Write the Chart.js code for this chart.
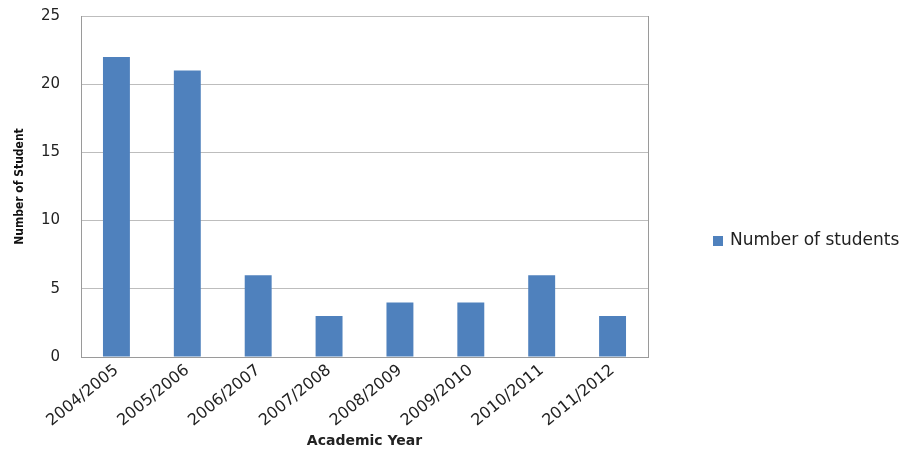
<!DOCTYPE html>
<html lang="en">
<head>
  <meta charset="UTF-8">
  <title>Number of students</title>
  <script src="https://cdn.jsdelivr.net/npm/chart.js"></script>
  <style>
    html, body { margin: 0; padding: 0; background: #fff; }
    #wrap { width: 901px; height: 452px; }
  </style>
</head>
<body>
  <div id="wrap"><canvas id="studentChart" width="901" height="452"></canvas></div>

  <script>
    const years = ['2004/2005', '2005/2006', '2006/2007', '2007/2008', '2008/2009', '2009/2010', '2010/2011', '2011/2012'];
    const students = [22, 21, 6, 3, 4, 4, 6, 3];
    const seriesName = 'Number of students';
    const yTitle = 'Number of Student';
    const xTitle = 'Academic Year';

    // legend drawn at the right of the plot, like the original
    const sideLegend = {
      id: 'sideLegend',
      afterDraw(chart) {
        const ctx = chart.ctx;
        const ds = chart.data.datasets[0];
        const x = chart.chartArea.right + 65;
        const y = 241;
        ctx.save();
        ctx.fillStyle = ds.backgroundColor;
        ctx.fillRect(x, y - 5, 10, 10);
        ctx.fillStyle = '#222';
        ctx.font = '17px "DejaVu Sans"';
        ctx.textBaseline = 'middle';
        ctx.fillText(ds.label, x + 17, y);
        ctx.restore();
      }
    };

    new Chart(document.getElementById('studentChart').getContext('2d'), {
      type: 'bar',
      data: {
        labels: years,
        datasets: [{
          label: seriesName,
          data: students,
          backgroundColor: '#4F81BD',
          barPercentage: 0.38,
          categoryPercentage: 1
        }]
      },
      options: {
        responsive: false,
        animation: false,
        layout: { padding: { top: 16, right: 253, left: 0, bottom: 0 } },
        plugins: {
          legend: { display: false },
          tooltip: { enabled: false }
        },
        scales: {
          x: {
            grid: { display: false, drawTicks: false },
            border: { color: '#9a9a9a' },
            ticks: {
              color: '#222',
              font: { family: 'DejaVu Sans', size: 16 },
              minRotation: 39,
              maxRotation: 39,
              padding: 4
            },
            title: {
              display: true,
              text: xTitle,
              color: '#222',
              font: { family: 'DejaVu Sans', size: 14, weight: 'bold' },
              padding: { top: 0, bottom: 2 }
            },
            afterFit(scale) { scale.height = 95; }
          },
          y: {
            min: 0,
            max: 25,
            grid: { color: '#bdbdbd', drawTicks: true, tickLength: 17, tickColor: 'rgba(0,0,0,0)' },
            border: { color: '#9a9a9a' },
            ticks: {
              stepSize: 5,
              color: '#222',
              font: { family: 'DejaVu Sans', size: 15 },
              padding: 4
            },
            title: {
              display: true,
              text: yTitle,
              color: '#111',
              font: { family: 'DejaVu Sans Condensed', size: 12, weight: 'bold' },
              padding: { top: 13, bottom: 0 }
            },
            afterFit(scale) { scale.width = 81; }
          },
          yRight: {
            position: 'right',
            min: 0,
            max: 25,
            grid: { display: false, drawTicks: false },
            border: { color: '#9a9a9a' },
            ticks: { display: false },
            afterFit(scale) { scale.width = 0; }
          }
        }
      },
      plugins: [sideLegend]
    });
  </script>
</body>
</html>
